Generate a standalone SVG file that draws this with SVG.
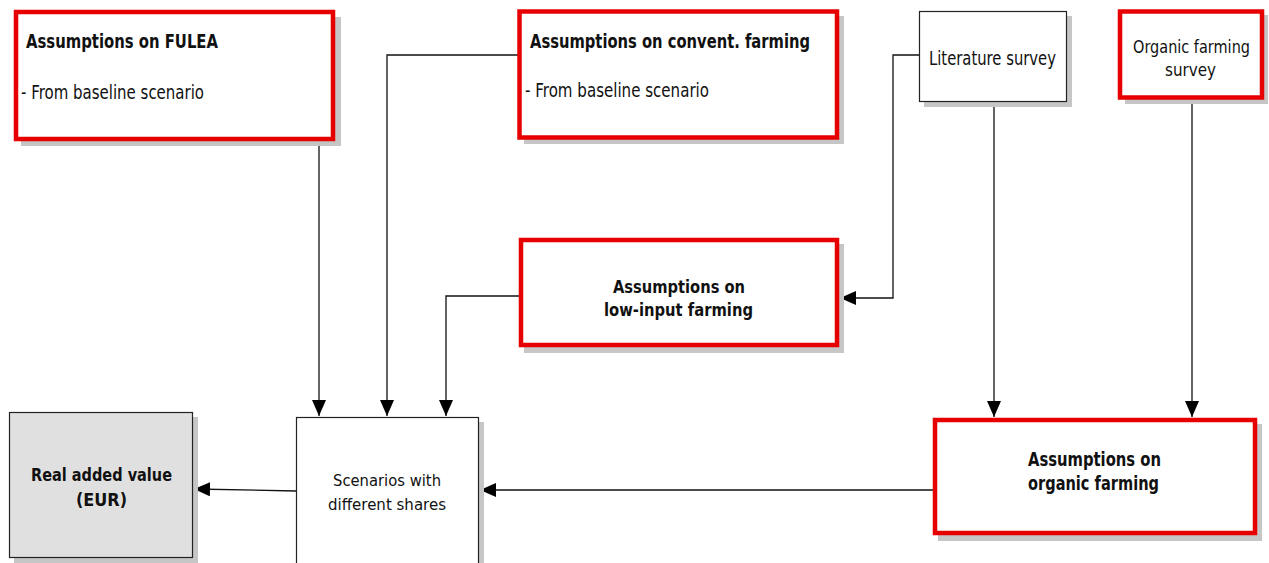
<svg xmlns="http://www.w3.org/2000/svg" width="1269" height="563" viewBox="0 0 1269 563">
<style>
text{font-family:"DejaVu Sans",sans-serif;fill:#111}
.b{font-weight:bold}
.sh{fill:#c6c6c6}
.red{fill:#fff;stroke:#e60000;stroke-width:4.5}
.blk{fill:#fff;stroke:#222;stroke-width:1.2}
.gry{fill:#e0e0e0;stroke:#222;stroke-width:1.2}
.c{fill:none;stroke:#111;stroke-width:1.3}
</style>
<defs>
<marker id="ah" markerUnits="userSpaceOnUse" markerWidth="17" markerHeight="14" refX="16" refY="7" orient="auto">
<path d="M0,0 L16,7 L0,14 z" fill="#000"/>
</marker>
</defs>
<rect width="1269" height="563" fill="#fff"/>
<g id="connectors">
<path class="c" d="M319,139 V416" marker-end="url(#ah)"/>
<path class="c" d="M519,55 H387 V416" marker-end="url(#ah)"/>
<path class="c" d="M519,296 H446 V416" marker-end="url(#ah)"/>
<path class="c" d="M919,55 H893 V298 H840" marker-end="url(#ah)"/>
<path class="c" d="M994,102 V417" marker-end="url(#ah)"/>
<path class="c" d="M1192,98 V417" marker-end="url(#ah)"/>
<path class="c" d="M933,490 H480" marker-end="url(#ah)"/>
<path class="c" d="M296,491 L194,489" marker-end="url(#ah)"/>
</g>
<g id="fulea">
<rect class="sh" x="21" y="17" width="320" height="129"/>
<rect class="red" x="16" y="12" width="317" height="127"/>
<text class="b" x="26" y="48" font-size="19" textLength="192" lengthAdjust="spacingAndGlyphs">Assumptions on FULEA</text>
<text x="21" y="99" font-size="20" textLength="183" lengthAdjust="spacingAndGlyphs">-  From baseline scenario</text>
</g>
<g id="convent">
<rect class="sh" x="524" y="16" width="320" height="128"/>
<rect class="red" x="519.5" y="11.5" width="317.5" height="126"/>
<text class="b" x="530" y="48" font-size="19" textLength="280" lengthAdjust="spacingAndGlyphs">Assumptions on convent. farming</text>
<text x="525" y="97" font-size="20" textLength="184" lengthAdjust="spacingAndGlyphs">-  From baseline scenario</text>
</g>
<g id="literature">
<rect class="sh" x="924" y="16" width="148" height="91"/>
<rect class="blk" x="919.5" y="11.5" width="147" height="90"/>
<text x="929" y="65" font-size="20" textLength="127" lengthAdjust="spacingAndGlyphs">Literature survey</text>
</g>
<g id="organic-survey">
<rect class="sh" x="1125" y="15" width="143" height="89"/>
<rect class="red" x="1120" y="11.5" width="142" height="86"/>
<text x="1191.5" y="53" font-size="17" text-anchor="middle" textLength="117" lengthAdjust="spacingAndGlyphs">Organic farming</text>
<text x="1190.5" y="76" font-size="17" text-anchor="middle" textLength="51" lengthAdjust="spacingAndGlyphs">survey</text>
</g>
<g id="low-input">
<rect class="sh" x="524" y="244" width="320" height="109"/>
<rect class="red" x="521" y="240" width="316" height="105"/>
<text class="b" x="613" y="293" font-size="18" textLength="132" lengthAdjust="spacingAndGlyphs">Assumptions on</text>
<text class="b" x="604" y="316" font-size="18" textLength="149" lengthAdjust="spacingAndGlyphs">low-input farming</text>
</g>
<g id="scenarios">
<rect class="sh" x="301" y="422" width="183" height="150"/>
<rect class="blk" x="296.5" y="417.5" width="182" height="150"/>
<text x="333" y="486" font-size="16" textLength="108" lengthAdjust="spacingAndGlyphs">Scenarios with</text>
<text x="328" y="510" font-size="16" textLength="118" lengthAdjust="spacingAndGlyphs">different shares</text>
</g>
<g id="real">
<rect class="sh" x="14" y="417" width="184" height="146"/>
<rect class="gry" x="9.5" y="412.5" width="183" height="145"/>
<text class="b" x="31" y="481" font-size="18" textLength="141" lengthAdjust="spacingAndGlyphs">Real added value</text>
<text class="b" x="76" y="506" font-size="18" textLength="51" lengthAdjust="spacingAndGlyphs">(EUR)</text>
</g>
<g id="organic">
<rect class="sh" x="938" y="424" width="324" height="117"/>
<rect class="red" x="935" y="420" width="320" height="113"/>
<text class="b" x="1028" y="466" font-size="19" textLength="133" lengthAdjust="spacingAndGlyphs">Assumptions on</text>
<text class="b" x="1028" y="490" font-size="19" textLength="131" lengthAdjust="spacingAndGlyphs">organic farming</text>
</g>
</svg>
